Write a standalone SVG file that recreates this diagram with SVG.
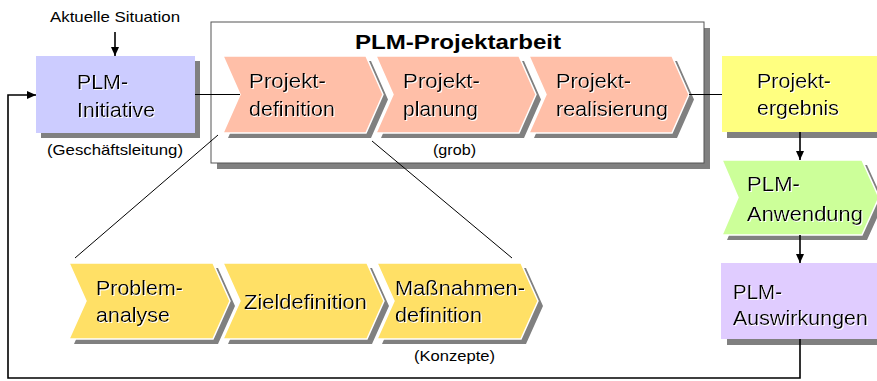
<svg xmlns="http://www.w3.org/2000/svg" width="877" height="381" viewBox="0 0 877 381">
<style>
text{font-family:"Liberation Sans",Arial,sans-serif;fill:#000}
.b{font-size:20px;filter:url(#halo)}
.s{font-size:15px}
.t{font-size:21px;font-weight:bold}
.sh{fill:#808080}
.chv{stroke:#fff;stroke-width:1.5}
.ln{stroke:#000;fill:none;stroke-width:1}
.ar{stroke:#000;fill:none;stroke-width:1.6}
</style>
<defs>
<marker id="ah" markerUnits="userSpaceOnUse" markerWidth="10" markerHeight="8" refX="9" refY="4" orient="auto">
<path d="M0,0 L9,4 L0,8 Z" fill="#000"/>
</marker>
<filter id="halo" x="-5%" y="-20%" width="110%" height="140%">
<feFlood flood-color="#fff" result="w"/>
<feComposite in="w" in2="SourceAlpha" operator="in" result="wa"/>
<feOffset in="wa" dx="1" dy="1" result="wo"/>
<feMerge><feMergeNode in="wo"/><feMergeNode in="SourceGraphic"/></feMerge>
</filter>
</defs>

<g id="aktuelle-situation">
<text class="s" x="50" y="22" textLength="130" lengthAdjust="spacingAndGlyphs">Aktuelle Situation</text>
</g>

<g id="plm-initiative">
<rect class="sh" x="41" y="61" width="159" height="77"/>
<rect x="36" y="56" width="159" height="77" fill="#ccccff"/>
<text class="b" x="77" y="89" textLength="51" lengthAdjust="spacingAndGlyphs">PLM-</text>
<text class="b" x="77" y="117" textLength="78" lengthAdjust="spacingAndGlyphs">Initiative</text>
<text class="s" x="47" y="155" textLength="136" lengthAdjust="spacingAndGlyphs">(Geschäftsleitung)</text>
</g>

<g id="plm-projektarbeit">
<rect class="sh" x="217" y="28" width="493" height="141"/>
<rect x="211" y="22" width="493" height="141" fill="#fff" stroke="#555" stroke-width="1"/>
<text class="t" x="355" y="49" textLength="206" lengthAdjust="spacingAndGlyphs">PLM-Projektarbeit</text>
<text class="s" x="433" y="155" textLength="43" lengthAdjust="spacingAndGlyphs">(grob)</text>
</g>

<g id="projektdefinition">
<path class="sh" d="M228,61 L371,61 L388,99.5 L371,138 L228,138 L245,99.5 Z"/>
<path class="chv" fill="#ffbfa8" d="M223,56 L366,56 L383,94.5 L366,133 L223,133 L240,94.5 Z"/>
<text class="b" x="249" y="88" textLength="77" lengthAdjust="spacingAndGlyphs">Projekt-</text>
<text class="b" x="249" y="116" textLength="86" lengthAdjust="spacingAndGlyphs">definition</text>
</g>

<g id="projektplanung">
<path class="sh" d="M381,61 L524,61 L541,99.5 L524,138 L381,138 L398,99.5 Z"/>
<path class="chv" fill="#ffbfa8" d="M376,56 L519,56 L536,94.5 L519,133 L376,133 L393,94.5 Z"/>
<text class="b" x="403" y="88" textLength="77" lengthAdjust="spacingAndGlyphs">Projekt-</text>
<text class="b" x="403" y="116" textLength="75" lengthAdjust="spacingAndGlyphs">planung</text>
</g>

<g id="projektrealisierung">
<path class="sh" d="M534,61 L677,61 L694,99.5 L677,138 L534,138 L551,99.5 Z"/>
<path class="chv" fill="#ffbfa8" d="M529,56 L672,56 L689,94.5 L672,133 L529,133 L546,94.5 Z"/>
<text class="b" x="556" y="88" textLength="75" lengthAdjust="spacingAndGlyphs">Projekt-</text>
<text class="b" x="556" y="116" textLength="112" lengthAdjust="spacingAndGlyphs">realisierung</text>
</g>

<g id="projektergebnis">
<rect class="sh" x="727" y="62" width="150" height="76"/>
<rect x="722" y="56" width="155" height="76" fill="#ffff80"/>
<text class="b" x="757" y="88" textLength="74" lengthAdjust="spacingAndGlyphs">Projekt-</text>
<text class="b" x="757" y="115" textLength="82" lengthAdjust="spacingAndGlyphs">ergebnis</text>
</g>

<g id="plm-anwendung">
<path class="sh" d="M727,165 L867,165 L884,202.5 L867,240 L727,240 L743,202.5 Z"/>
<path class="chv" fill="#ccff99" d="M722,160 L862,160 L879,197.5 L862,235 L722,235 L738,197.5 Z"/>
<text class="b" x="747" y="191" textLength="53" lengthAdjust="spacingAndGlyphs">PLM-</text>
<text class="b" x="747" y="221" textLength="116" lengthAdjust="spacingAndGlyphs">Anwendung</text>
</g>

<g id="plm-auswirkungen">
<rect class="sh" x="727" y="269" width="150" height="76"/>
<rect x="721" y="263" width="156" height="76" fill="#e0ccff"/>
<text class="b" x="733" y="299" textLength="49" lengthAdjust="spacingAndGlyphs">PLM-</text>
<text class="b" x="733" y="325" textLength="135" lengthAdjust="spacingAndGlyphs">Auswirkungen</text>
</g>

<g id="problemanalyse">
<path class="sh" d="M74,268 L218,268 L235,306 L218,344 L74,344 L91,306 Z"/>
<path class="chv" fill="#ffe066" d="M69,263 L213,263 L230,301 L213,339 L69,339 L86,301 Z"/>
<text class="b" x="96" y="295" textLength="87" lengthAdjust="spacingAndGlyphs">Problem-</text>
<text class="b" x="96" y="322" textLength="74" lengthAdjust="spacingAndGlyphs">analyse</text>
</g>

<g id="zieldefinition">
<path class="sh" d="M228,268 L372,268 L389,306 L372,344 L228,344 L245,306 Z"/>
<path class="chv" fill="#ffe066" d="M223,263 L367,263 L384,301 L367,339 L223,339 L240,301 Z"/>
<text class="b" x="244" y="309" textLength="123" lengthAdjust="spacingAndGlyphs">Zieldefinition</text>
</g>

<g id="massnahmendefinition">
<path class="sh" d="M382,268 L526,268 L543,306 L526,344 L382,344 L399,306 Z"/>
<path class="chv" fill="#ffe066" d="M377,263 L521,263 L538,301 L521,339 L377,339 L394,301 Z"/>
<text class="b" x="395" y="295" textLength="130" lengthAdjust="spacingAndGlyphs">Maßnahmen-</text>
<text class="b" x="395" y="322" textLength="87" lengthAdjust="spacingAndGlyphs">definition</text>
<text class="s" x="414" y="361" textLength="81" lengthAdjust="spacingAndGlyphs">(Konzepte)</text>
</g>

<g id="connectors">
<line class="ar" x1="115" y1="32" x2="115" y2="56" marker-end="url(#ah)"/>
<line class="ln" x1="195" y1="94.5" x2="240" y2="94.5"/>
<line class="ln" x1="689" y1="94.5" x2="722" y2="94.5"/>
<line class="ar" x1="800" y1="132" x2="800" y2="160" marker-end="url(#ah)"/>
<line class="ar" x1="800" y1="235" x2="800" y2="263" marker-end="url(#ah)"/>
<polyline class="ar" points="800,339 800,378 8,378 8,95 36,95" marker-end="url(#ah)"/>
<line class="ln" x1="218" y1="135" x2="75" y2="258"/>
<line class="ln" x1="372" y1="141" x2="512" y2="258"/>
</g>
</svg>
